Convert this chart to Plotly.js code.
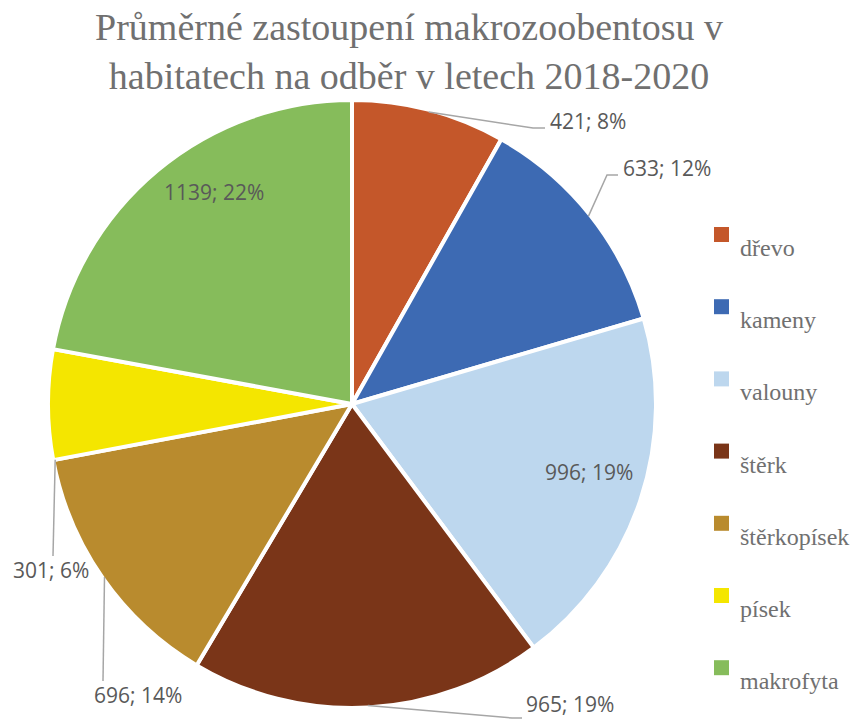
<!DOCTYPE html>
<html>
<head>
<meta charset="utf-8">
<script src="https://cdn.plot.ly/plotly-3.0.1.min.js"></script>
<style>html,body{margin:0;padding:0;background:#fff}#chart{width:853px;height:720px}</style>
</head>
<body>
<div id="chart"></div>
<script>
// ---- data ----
const categories = ['dřevo', 'kameny', 'valouny', 'štěrk', 'štěrkopísek', 'písek', 'makrofyta'];
const counts = [421, 633, 996, 965, 696, 301, 1139];
const titleText = 'Průměrné zastoupení makrozoobentosu v<br>habitatech na odběr v letech 2018-2020';

// ---- styles ----
const colors = ['#C4572A', '#3D6AB3', '#BDD7EE', '#7A3518', '#B98B2E', '#F4E600', '#86BC5B'];
const W = 853, H = 720;
const CX = 352, CY = 404, R = 304;   // pie centre / radius in pixels (stroke eats 2px)
const RA = 302;                       // visible radius for leader anchors
// label placement (pixel) : [left x, centre y]
const labelPos = [[548,121],[621,168],[543,472],[524,708],[92,695],[11,570],[162,192]];
// leader line: anchor mode and elbow points (null = no leader line)
const anchorMode = ['mid','mid',null,'mid','mid','start',null];
const elbows = [
  [[533,128],[545,128]],
  [[607,175],[618,175]],
  null,
  [[512,718],[522,718]],
  [[103,681]],
  [[53,556]],
  null
];

const px = x => x / W;
const py = y => 1 - y / H;
const serif = 'Liberation Serif';

const total = counts.reduce((a,b)=>a+b,0);
let cum = 0;
const annotations = [];
const shapes = [];

counts.forEach((v,i) => {
  const a0 = cum / total * 360;
  cum += v;
  const a1 = cum / total * 360;
  const pct = Math.round(v / total * 100);
  const [lx, ly] = labelPos[i];
  const ann = {
    xref:'paper', yref:'paper', x:px(lx), y:py(ly), xanchor:'left', yanchor:'middle',
    text: v + '; ' + pct + '%', showarrow:false,
    font:{family:'Open Sans', size:21, color:'#595959'}
  };
  if (ly > 700) { ann.y = py(719.5); ann.yanchor = 'bottom'; }
  annotations.push(ann);
  if (anchorMode[i]) {
    const ang = (anchorMode[i] === 'mid' ? (a0 + a1) / 2 : a0) * Math.PI / 180;
    const ax = CX + RA * Math.sin(ang), ay = CY - RA * Math.cos(ang);
    let path = 'M' + px(ax) + ',' + py(ay);
    elbows[i].forEach(p => { path += ' L' + px(p[0]) + ',' + py(p[1]); });
    shapes.push({type:'path', xref:'paper', yref:'paper', path:path,
      line:{color:'#A6A6A6', width:1.5}});
  }
});

// manual legend
categories.forEach((c,i) => {
  const top = 227 + i * 72.2;
  shapes.push({type:'rect', xref:'paper', yref:'paper',
    x0:px(714), x1:px(729), y0:py(top+15), y1:py(top),
    fillcolor:colors[i], line:{width:0}});
  annotations.push({
    xref:'paper', yref:'paper', x:px(738), y:py(top + 21), xanchor:'left', yanchor:'middle',
    text:c, showarrow:false,
    font:{family:serif, size:24, color:'#707070'}
  });
});

const trace = {
  type:'pie',
  labels:categories,
  values:counts,
  sort:false,
  direction:'clockwise',
  rotation:0,
  textinfo:'none',
  hoverinfo:'label+value+percent',
  marker:{colors:colors, line:{color:'#FFFFFF', width:4}},
  domain:{x:[px(CX-R), px(CX+R)], y:[py(CY+R), py(CY-R)]},
  showlegend:false
};

const layout = {
  width:W, height:H,
  margin:{l:0, r:0, t:0, b:0},
  paper_bgcolor:'#FFFFFF',
  showlegend:false,
  title:{text:titleText, x:409/W, xanchor:'center', y:1-40/H, yanchor:'top',
    font:{family:serif, size:38, color:'#707070'}},
  annotations:annotations,
  shapes:shapes
};

Plotly.newPlot('chart', [trace], layout, {displayModeBar:false, staticPlot:true});
</script>
</body>
</html>
